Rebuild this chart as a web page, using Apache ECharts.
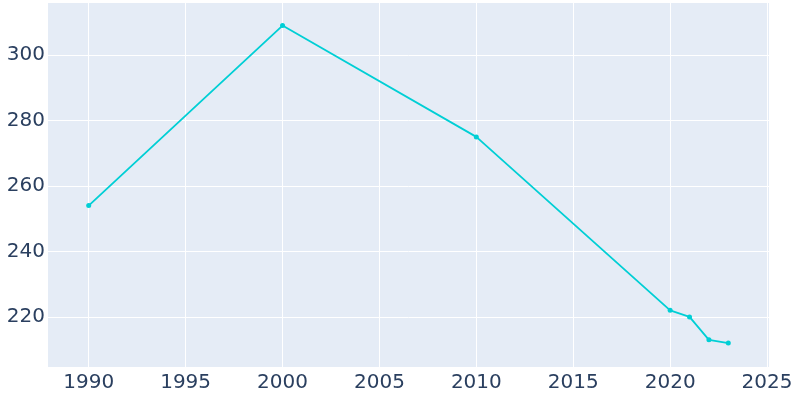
<!DOCTYPE html>
<html><head><meta charset="utf-8">
<script src="https://cdn.jsdelivr.net/npm/echarts@6/dist/echarts.min.js"></script>
<style>html,body{margin:0;padding:0;background:#fff}#c{width:800px;height:400px}</style>
</head><body><div id="c"></div>
<script>
const years = [1990, 2000, 2010, 2020, 2021, 2022, 2023];
const population = [254, 309, 275, 222, 220, 213, 212];
const xTicks = [1990, 1995, 2000, 2005, 2010, 2015, 2020, 2025];
const yTicks = [220, 240, 260, 280, 300];

const chart = echarts.init(document.getElementById('c'));
const font = {fontFamily: 'DejaVu Sans', fontSize: 20, color: '#2a3f5f', formatter: v => String(v)};
chart.setOption({
  animation: false,
  grid: {left: 48, right: 31, top: 3, bottom: 33, show: true, backgroundColor: '#E5ECF6', borderWidth: 0},
  xAxis: {
    type: 'value', min: 1987.9, max: 2025.1,
    axisLine: {show: false},
    axisTick: {show: false, customValues: xTicks},
    axisLabel: Object.assign({customValues: xTicks, margin: 6}, font),
    splitLine: {show: true, lineStyle: {color: '#ffffff', width: 1}}
  },
  yAxis: {
    type: 'value', min: 204.7, max: 315.9,
    axisLine: {show: false},
    axisTick: {show: false, customValues: yTicks},
    axisLabel: Object.assign({customValues: yTicks, margin: 3}, font),
    splitLine: {show: true, lineStyle: {color: '#ffffff', width: 1}}
  },
  series: [{
    type: 'line',
    data: years.map((y, i) => [y, population[i]]),
    symbol: 'circle', symbolSize: 5,
    lineStyle: {color: '#00cfd5', width: 1.8},
    itemStyle: {color: '#00cfd5'}
  }]
});
</script></body></html>
